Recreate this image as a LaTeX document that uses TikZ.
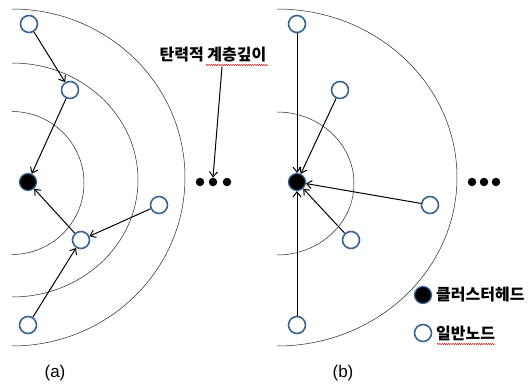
\documentclass[tikz,border=0pt]{standalone}
\usepackage{fontspec}
\newfontfamily\kr{Noto Sans CJK KR}
\newfontfamily\lat{Liberation Sans}
\usetikzlibrary{arrows.meta,decorations.pathmorphing}
\definecolor{nodeblue}{RGB}{58,100,150}
\tikzset{
  nd/.style={circle,draw=nodeblue,line width=1.6pt,fill=white,minimum size=17pt,inner sep=0pt},
  ch/.style={circle,draw=nodeblue,line width=1.2pt,fill=black,minimum size=17pt,inner sep=0pt},
  dotn/.style={circle,fill=black,minimum size=8.5pt,inner sep=0pt},
  arr/.style={line width=1pt,-{Straight Barb[length=5pt,width=8pt]}},
  ring/.style={line width=0.5pt,draw=black!85},
  lbl/.style={font=\kr\bfseries\fontsize{16}{18}\selectfont,inner sep=0pt},
  captxt/.style={font=\lat\fontsize{17}{19}\selectfont,inner sep=0pt},
  wavy/.style={draw=red!80!black,line width=0.4pt,decorate,decoration={snake,amplitude=0.7pt,segment length=2.2pt}}
}
\begin{document}
\begin{tikzpicture}[x=1pt,y=-1pt]
\useasboundingbox (0,0) rectangle (530,385);
\fill[white] (0,0) rectangle (530,385);
% panel (a) rings
\begin{scope}
\clip (12,0) rectangle (265,385);
\draw[ring] (12,183) ellipse [x radius=72,y radius=71.5];
\draw[ring] (12,180) ellipse [x radius=126,y radius=117];
\draw[ring] (12,177.5) ellipse [x radius=173,y radius=168.5];
\end{scope}
% panel (b) rings
\begin{scope}
\clip (277,0) rectangle (530,385);
\draw[ring] (277,183.5) ellipse [x radius=77,y radius=71.5];
\draw[ring] (277,177.5) ellipse [x radius=180,y radius=168.5];
\end{scope}
% panel (a) nodes
\node[nd] (a1) at (29,24) {};
\node[nd] (a2) at (70,90) {};
\node[ch] (ach) at (28,182) {};
\node[nd] (a3) at (159,205) {};
\node[nd] (a4) at (81,240) {};
\node[nd] (a5) at (28,325) {};
\draw[arr] (a1) -- (a2);
\draw[arr] (a2) -- (ach);
\draw[arr] (a4) -- (ach);
\draw[arr] (a3) -- (a4);
\draw[arr] (a5) -- (a4);
% dots (a)
\node[dotn] (ad1) at (200,182) {};
\node[dotn] (ad2) at (213,182) {};
\node[dotn] (ad3) at (227,182) {};
% label
\node[lbl] (lab) at (213,55) {탄력적 계층깊이};
\draw[wavy] (206,65) -- (268,65);
\draw[arr] ([xshift=9pt,yshift=-4pt]lab.south) -- (ad2.north);
% panel (b) nodes
\node[nd] (b1) at (297,24) {};
\node[nd] (b2) at (340,90) {};
\node[ch] (bch) at (297,182) {};
\node[nd] (b3) at (430,205) {};
\node[nd] (b4) at (351,240) {};
\node[nd] (b5) at (297,325) {};
\draw[arr] (b1) -- (bch);
\draw[arr] (b2) -- (bch);
\draw[arr] (b3) -- (bch);
\draw[arr] (b4) -- (bch);
\draw[arr] (b5) -- (bch);
% dots (b)
\node[dotn] (bd1) at (472,182) {};
\node[dotn] (bd2) at (484,182) {};
\node[dotn] (bd3) at (496,182) {};
% legend
\node[ch] (lg1) at (423,295) {};
\node[lbl,anchor=west] (lt1) at (436,295) {클러스터헤드};
\node[nd] (lg2) at (423,333) {};
\node[lbl,anchor=west] (lt2) at (436,333) {일반노드};
\draw[wavy] (437,344) -- (495,344);
% captions
\node[captxt] (ca) at (55,373) {(a)};
\node[captxt] (cb) at (343,373) {(b)};
\end{tikzpicture}
\end{document}
